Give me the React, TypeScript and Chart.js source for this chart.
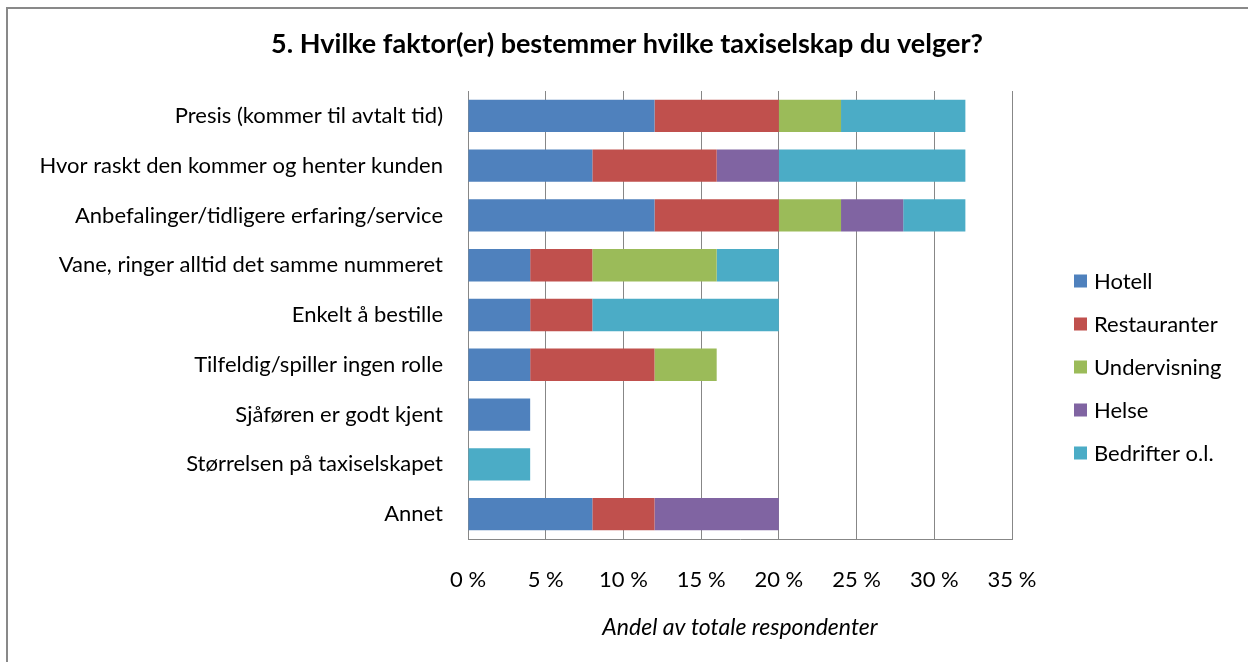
import React, { useEffect, useRef } from "react";
import { Chart, registerables } from "chart.js";

Chart.register(...registerables);

const chartTitle = "5. Hvilke faktor(er) bestemmer hvilke taxiselskap du velger?";
const axisTitle = "Andel av totale respondenter";

const categories = [
  "Presis (kommer til avtalt tid)",
  "Hvor raskt den kommer og henter kunden",
  "Anbefalinger/tidligere erfaring/service",
  "Vane, ringer alltid det samme nummeret",
  "Enkelt å bestille",
  "Tilfeldig/spiller ingen rolle",
  "Sjåføren er godt kjent",
  "Størrelsen på taxiselskapet",
  "Annet",
];

const seriesNames = ["Hotell", "Restauranter", "Undervisning", "Helse", "Bedrifter o.l."];
const hotell = [12, 8, 12, 4, 4, 4, 4, 0, 8];
const restauranter = [8, 8, 8, 4, 4, 8, 0, 0, 4];
const undervisning = [4, 0, 4, 8, 0, 4, 0, 0, 0];
const helse = [0, 4, 4, 0, 0, 0, 0, 0, 8];
const bedrifter = [8, 12, 4, 4, 12, 0, 0, 4, 0];
const seriesColors = ["#4F81BD", "#C0504D", "#9BBB59", "#8064A2", "#4BACC6"];

const xMin = 0;
const xMax = 35;
const xStep = 5;

const FONT = "Lato, 'Liberation Sans', sans-serif";
const GRID = "#878787";

const titlePlugin = {
  id: "customTitle",
  afterDraw(chart: any) {
    const ctx = chart.ctx;
    ctx.save();
    ctx.font = `bold 27px ${FONT}`;
    ctx.fillStyle = "#000";
    ctx.textAlign = "center";
    ctx.textBaseline = "middle";
    ctx.fillText(chartTitle, chart.width / 2 + 3, 44);
    ctx.restore();
  },
};

const legendPlugin = {
  id: "customLegend",
  afterDraw(chart: any) {
    const ctx = chart.ctx;
    const x0 = chart.chartArea.right + 62;
    const y0 = 281;
    const gap = 43;
    ctx.save();
    ctx.font = `22px ${FONT}`;
    ctx.textAlign = "left";
    ctx.textBaseline = "middle";
    chart.data.datasets.forEach((ds: any, i: number) => {
      const cy = y0 + i * gap;
      ctx.fillStyle = ds.backgroundColor;
      ctx.fillRect(x0, cy - 6.5, 13, 13);
      ctx.fillStyle = "#000";
      ctx.fillText(ds.label, x0 + 20, cy + 1);
    });
    ctx.restore();
  },
};

export default function App() {
  const ref = useRef<HTMLCanvasElement | null>(null);

  useEffect(() => {
    if (!ref.current) return;
    const values = [hotell, restauranter, undervisning, helse, bedrifter];
    const chart = new Chart(ref.current, {
      type: "bar",
      data: {
        labels: categories,
        datasets: seriesNames.map((name, i) => ({
          label: name,
          data: values[i],
          backgroundColor: seriesColors[i],
          borderWidth: 0,
          categoryPercentage: 1,
          barPercentage: 0.65,
        })),
      },
      options: {
        indexAxis: "y",
        responsive: false,
        animation: false,
        layout: { padding: { left: 0, top: 91, right: 236, bottom: 0 } },
        plugins: {
          legend: { display: false },
          title: { display: false },
          tooltip: { enabled: false },
        },
        scales: {
          x: {
            stacked: true,
            min: xMin,
            max: xMax,
            ticks: {
              stepSize: xStep,
              color: "#000",
              font: { family: FONT, size: 22 },
              padding: 28,
              maxRotation: 0,
              callback: (v: any) => `${v} %`,
            },
            grid: { color: GRID, lineWidth: 1, drawTicks: false },
            border: { display: true, color: GRID, width: 1 },
            title: {
              display: true,
              text: axisTitle,
              color: "#000",
              font: { family: FONT, size: 23, style: "italic" },
              padding: { top: 0, bottom: 21 },
            },
            afterFit: (scale: any) => {
              scale.height = 123;
            },
          },
          y: {
            stacked: true,
            ticks: {
              color: "#000",
              font: { family: FONT, size: 22 },
              padding: 25,
              autoSkip: false,
            },
            grid: { display: false, drawTicks: false },
            border: { display: true, color: GRID, width: 1 },
            afterFit: (scale: any) => {
              scale.width = 468;
            },
          },
        },
      },
      plugins: [titlePlugin, legendPlugin],
    });
    return () => chart.destroy();
  }, []);

  return (
    <div
      style={{
        position: "fixed",
        left: 0,
        top: 0,
        width: 1248,
        height: 662,
        overflow: "hidden",
        background: "#fff",
      }}
    >
      <div
        style={{
          position: "absolute",
          left: 6,
          top: 7,
          width: 1300,
          height: 720,
          border: "2px solid #898989",
          boxSizing: "border-box",
        }}
      />
      <canvas
        ref={ref}
        width={1248}
        height={662}
        style={{ position: "absolute", left: 0, top: 0, width: 1248, height: 662 }}
      />
    </div>
  );
}
